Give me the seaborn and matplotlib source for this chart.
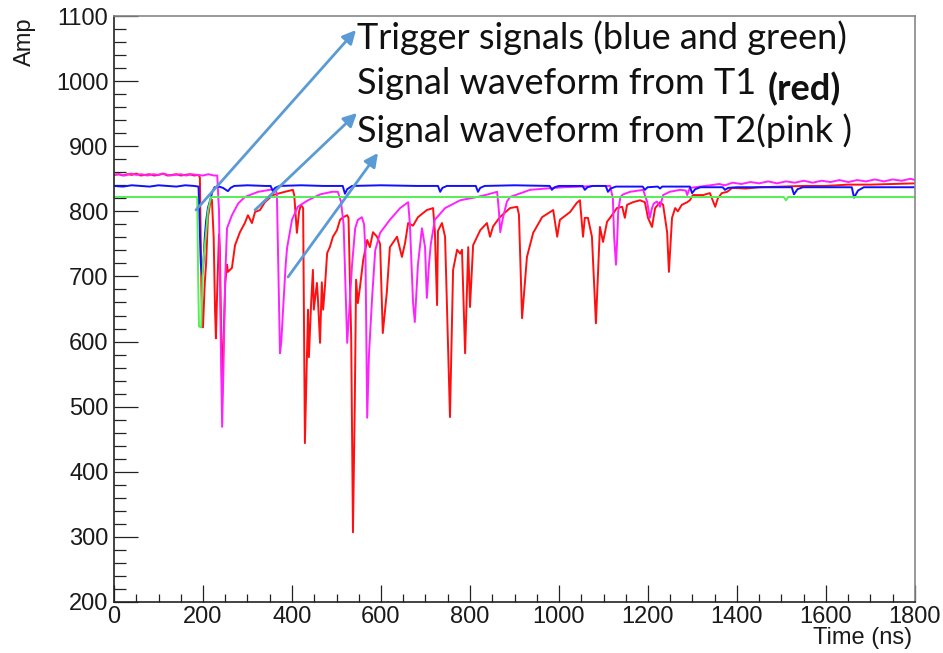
import matplotlib
matplotlib.use('Agg')
import matplotlib.pyplot as plt
import seaborn as sns
from matplotlib.ticker import MultipleLocator

# ---------------- data ----------------
red_t = [0, 10, 20, 30, 40, 50, 60, 70, 80, 90, 100, 110, 120, 130, 140, 150, 160, 170, 180, 190,
         193, 196, 198, 200, 204, 207, 211, 216, 220, 224, 227, 229, 232, 236, 238, 241, 243, 246, 250,
         254, 256, 265, 272, 283, 294, 301, 310, 317, 328, 339, 357, 384, 402, 405, 411, 416, 420, 425,
         429, 433, 436, 438, 443, 447, 449, 456, 458, 463, 467, 470, 474, 479, 485, 492, 501, 508, 515,
         524, 527, 533, 537, 541, 544, 548, 553, 560, 569, 575, 582, 591, 598, 604, 613, 620, 636, 647,
         654, 661, 672, 683, 703, 717, 721, 726, 728, 737, 744, 755, 762, 771, 778, 782, 789, 796, 800,
         807, 823, 838, 845, 852, 867, 890, 906, 910, 917, 928, 942, 962, 987, 996, 1002, 1025, 1040,
         1047, 1054, 1058, 1065, 1074, 1083, 1092, 1099, 1108, 1119, 1130, 1142, 1148, 1153, 1166, 1182,
         1193, 1200, 1209, 1216, 1227, 1234, 1243, 1247, 1254, 1261, 1267, 1276, 1288, 1294, 1301, 1324,
         1339, 1351, 1357, 1366, 1378, 1389, 1420, 1450, 1500, 1550, 1600, 1650, 1700, 1750, 1800]
red_a = [856, 857, 855, 857, 856, 858, 855, 856, 857, 855, 856, 858, 855, 856, 857, 855, 856, 857, 855, 856,
         852, 700, 622, 622, 690, 720, 790, 812, 818, 760, 650, 605, 680, 765, 740, 600, 518, 600, 690,
         718, 707, 713, 748, 768, 782, 794, 782, 799, 802, 814, 825, 830, 833, 825, 767, 800, 810, 805,
         444, 560, 649, 576, 659, 710, 649, 690, 669, 598, 691, 649, 684, 736, 745, 761, 771, 787, 791,
         794, 790, 607, 307, 500, 695, 659, 685, 725, 756, 745, 768, 761, 750, 613, 675, 745, 761, 730,
         751, 782, 778, 791, 802, 805, 770, 656, 770, 782, 761, 484, 710, 741, 735, 741, 582, 745, 653,
         748, 771, 782, 761, 777, 791, 805, 807, 795, 636, 730, 767, 791, 802, 761, 787, 799, 813,
         817, 761, 790, 790, 761, 628, 776, 753, 784, 794, 805, 807, 790, 810, 814, 817,
         814, 790, 776, 805, 814, 810, 768, 707, 790, 805, 800, 810, 814, 817, 825, 825,
         828, 807, 820, 828, 830, 836, 835, 837, 838, 839, 839, 841, 841, 842, 843]

pink_t = [0, 12, 25, 38, 50, 62, 75, 88, 100, 112, 125, 138, 150, 162, 175, 188, 200, 212, 225, 232,
          236, 240, 243, 246, 250, 254, 265, 279, 294, 324, 350, 362, 366, 369, 373, 376, 380, 386, 389,
          400, 413, 436, 463, 490, 503, 510, 516, 524, 528, 535, 542, 548, 557, 562, 565, 569, 573, 580,
          587, 598, 620, 643, 661, 665, 672, 676, 683, 692, 699, 703, 708, 712, 721, 744, 778, 816, 840,
          861, 865, 868, 874, 883, 890, 935, 970, 1010, 1050, 1081, 1115, 1121, 1124, 1128, 1131, 1133,
          1138, 1144, 1160, 1189, 1198, 1204, 1209, 1213, 1220, 1227, 1234, 1249, 1272, 1285, 1288, 1294,
          1317, 1340, 1360, 1373, 1390, 1410, 1430, 1450, 1470, 1490, 1510, 1530, 1550, 1570, 1590, 1610,
          1630, 1650, 1670, 1690, 1710, 1730, 1750, 1770, 1790, 1800]
pink_a = [856, 857, 855, 858, 856, 857, 855, 857, 856, 858, 855, 856, 857, 855, 857, 856, 855, 857, 855, 855,
          800, 600, 469, 560, 700, 774, 794, 812, 822, 830, 833, 834, 828, 720, 582, 600, 650, 720, 744,
          787, 807, 817, 826, 830, 830, 815, 780, 598, 640, 718, 774, 787, 791, 780, 740, 483, 580, 667,
          740, 767, 787, 805, 814, 780, 660, 630, 718, 774, 745, 667, 720, 750, 787, 805, 817, 822, 826,
          830, 800, 768, 790, 815, 822, 833, 835, 837, 838, 839, 839, 820, 760, 718, 760, 800,
          822, 826, 830, 833, 815, 790, 805, 812, 815, 807, 825, 830, 833, 832, 825, 836,
          838, 840, 842, 840, 844, 842, 845, 843, 846, 843, 846, 844, 847, 844, 847, 845,
          848, 845, 848, 846, 849, 846, 849, 847, 850, 848]

blue_t = [0, 20, 40, 60, 80, 100, 120, 140, 160, 180, 190, 192, 195, 198, 200, 204, 207, 211, 216, 221,
          226, 236, 245, 256, 262, 270, 300, 340, 352, 357, 362, 372, 420, 470, 514, 519, 524, 535, 600,
          680, 728, 733, 738, 748, 813, 818, 823, 833, 900, 979, 984, 990, 1000, 1053, 1058, 1064, 1075,
          1105, 1110, 1116, 1128, 1188, 1193, 1199, 1222, 1227, 1232, 1294, 1299, 1306, 1318, 1368, 1373,
          1380, 1400, 1450, 1523, 1528, 1536, 1548, 1600, 1658, 1663, 1672, 1685, 1750, 1800]
blue_a = [839, 838, 840, 839, 838, 840, 839, 838, 840, 839, 838, 790, 720, 703, 710, 760, 785, 805, 817, 830,
          837, 838, 836, 831, 836, 839, 840, 839, 839, 831, 836, 839, 840, 839, 839, 827, 834, 839, 840,
          839, 839, 830, 836, 839, 839, 830, 836, 839, 840, 839, 833, 837, 839, 839, 833, 837, 839,
          839, 830, 835, 838, 838, 833, 837, 838, 835, 838, 838, 828, 834, 837, 837, 833,
          836, 837, 837, 837, 826, 834, 837, 837, 837, 821, 832, 837, 837, 837]

green_t = [0, 187, 189, 191, 196, 200, 207, 211, 218, 1505, 1510, 1515, 1800]
green_a = [822, 822, 700, 623, 622, 718, 768, 800, 822, 822, 817, 822, 822]

x_ticks = [0, 200, 400, 600, 800, 1000, 1200, 1400, 1600, 1800]
y_ticks = [200, 300, 400, 500, 600, 700, 800, 900, 1000, 1100]

# ---------------- style ----------------
sns.set_theme(style='white')
plt.rcParams['font.family'] = ['Liberation Sans', 'DejaVu Sans']

W, H = 943, 653
fig = plt.figure(figsize=(W / 100, H / 100), dpi=100)
ax = fig.add_axes([114 / W, 1 - 602 / H, (915 - 114) / W, (602 - 16) / H])

series = [(red_t, red_a, '#ff1010'),
          (pink_t, pink_a, '#ff22ff'),
          (blue_t, blue_a, '#1010ff'),
          (green_t, green_a, '#55ee55')]
for t, a, c in series:
    sns.lineplot(x=t, y=a, ax=ax, color=c, lw=1.4, sort=False, estimator=None)

ax.set_xlim(0, 1800)
ax.set_ylim(200, 1100)
ax.set_xticks(x_ticks)
ax.set_yticks(y_ticks)
ax.set_xticklabels([str(v) for v in x_ticks])
ax.set_yticklabels([str(v) for v in y_ticks])
ax.xaxis.set_minor_locator(MultipleLocator(50))
ax.yaxis.set_minor_locator(MultipleLocator(20))
ax.tick_params(which='both', direction='in', bottom=True, left=True, top=False, right=False,
               color='#222222', labelcolor='#1a1a1a', labelsize=17)
ax.tick_params(axis='y', which='major', length=17, width=0.9, pad=4)
ax.tick_params(axis='y', which='minor', length=8.5, width=0.9)
ax.tick_params(axis='x', which='major', length=12, width=0.9, pad=3)
ax.tick_params(axis='x', which='minor', length=6, width=0.9)
ax.set_xlabel('')
ax.set_ylabel('')
for side in ['left', 'bottom']:
    ax.spines[side].set_color('#222222')
    ax.spines[side].set_linewidth(1.2)
for side in ['top', 'right']:
    ax.spines[side].set_color('#888888')
    ax.spines[side].set_linewidth(1.2)

fig.text(912 / W, 1 - 638 / H, 'Time (ns)', ha='right', va='center', fontsize=17, color='#1a1a1a')
fig.text(25 / W, 1 - 17 / H, 'Amp', ha='center', va='top', rotation=90, fontsize=17, color='#1a1a1a')

# ---------------- annotations ----------------
tf = dict(family=['Lato', 'DejaVu Sans'], fontsize=26, color='#111111', va='center', ha='left')
fig.text(357 / W, 1 - 38 / H, 'Trigger signals (blue and green)', **tf)
fig.text(357 / W, 1 - 83 / H, 'Signal waveform from T1', **tf)
fig.text(768 / W, 1 - 89 / H, '(red)', fontweight='bold', **tf)
fig.text(357 / W, 1 - 131 / H, 'Signal waveform from T2(pink )', **tf)

arrow_kw = dict(arrowstyle='-|>', color='#5b9bd5', lw=2.0, mutation_scale=20, shrinkA=0, shrinkB=0)
for (x0, y0), (x1, y1) in [((196, 210), (356, 30)), ((255, 210), (357, 113)), ((288, 277), (378, 153))]:
    ax.annotate('', xy=(x1, H - y1), xytext=(x0, H - y0), xycoords='figure pixels',
                textcoords='figure pixels', arrowprops=arrow_kw, annotation_clip=False)

fig.savefig('out.png', dpi=100)
